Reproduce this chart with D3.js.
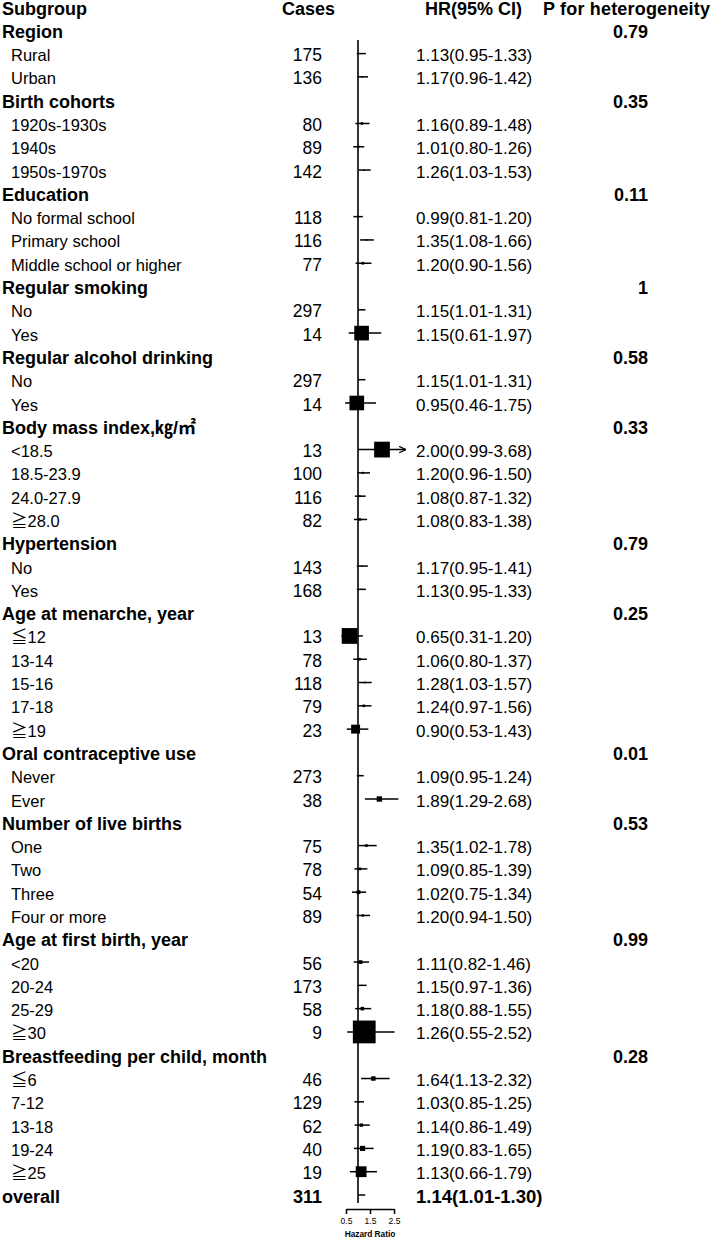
<!DOCTYPE html>
<html><head><meta charset="utf-8">
<script src="https://cdn.jsdelivr.net/npm/d3@7"></script>
<style>
body{margin:0;background:#fff;}
text{font-family:"Liberation Sans",Arial,"Noto Sans CJK SC",sans-serif;fill:#000;}
</style></head>
<body><svg id="c" width="714" height="1240"></svg>
<script>
// ---- data ----
const groups = ["Region","Birth cohorts","Education","Regular smoking","Regular alcohol drinking",
  "Body mass index,㎏/㎡","Hypertension","Age at menarche, year","Oral contraceptive use",
  "Number of live births","Age at first birth, year","Breastfeeding per child, month"];
const pHet = ["0.79","0.35","0.11","1","0.58","0.33","0.79","0.25","0.01","0.53","0.99","0.28"];
const subgroups = [
  ["Rural","Urban"],
  ["1920s-1930s","1940s","1950s-1970s"],
  ["No formal school","Primary school","Middle school or higher"],
  ["No","Yes"],
  ["No","Yes"],
  ["<18.5","18.5-23.9","24.0-27.9","≧28.0"],
  ["No","Yes"],
  ["≦12","13-14","15-16","17-18","≧19"],
  ["Never","Ever"],
  ["One","Two","Three","Four or more"],
  ["<20","20-24","25-29","≧30"],
  ["≦6","7-12","13-18","19-24","≧25"]
];
const cases = [[175,136],[80,89,142],[118,116,77],[297,14],[297,14],[13,100,116,82],[143,168],
  [13,78,118,79,23],[273,38],[75,78,54,89],[56,173,58,9],[46,129,62,40,19]];
const hr = [[1.13,1.17],[1.16,1.01,1.26],[0.99,1.35,1.20],[1.15,1.15],[1.15,0.95],[2.00,1.20,1.08,1.08],
  [1.17,1.13],[0.65,1.06,1.28,1.24,0.90],[1.09,1.89],[1.35,1.09,1.02,1.20],[1.11,1.15,1.18,1.26],
  [1.64,1.03,1.14,1.19,1.13]];
const lower = [[0.95,0.96],[0.89,0.80,1.03],[0.81,1.08,0.90],[1.01,0.61],[1.01,0.46],[0.99,0.96,0.87,0.83],
  [0.95,0.95],[0.31,0.80,1.03,0.97,0.53],[0.95,1.29],[1.02,0.85,0.75,0.94],[0.82,0.97,0.88,0.55],
  [1.13,0.85,0.86,0.83,0.66]];
const upper = [[1.33,1.42],[1.48,1.26,1.53],[1.20,1.66,1.56],[1.31,1.97],[1.31,1.75],[3.68,1.50,1.32,1.38],
  [1.41,1.33],[1.20,1.37,1.57,1.56,1.43],[1.24,2.68],[1.78,1.39,1.34,1.50],[1.46,1.36,1.55,2.52],
  [2.32,1.25,1.49,1.65,1.79]];
const overall = {label:"overall", cases:311, hr:1.14, lo:1.01, hi:1.30};
const headers = ["Subgroup","Cases","HR(95% CI)","P for heterogeneity"];
const ticks = [0.5,1.5,2.5];
const axisTitle = "Hazard Ratio";

// ---- build rows ----
const rows = [];
groups.forEach((g,gi)=>{
  rows.push({type:"group", label:g, p:pHet[gi]});
  subgroups[gi].forEach((s,si)=>{
    rows.push({type:"sub", label:s, cases:cases[gi][si], hr:hr[gi][si], lo:lower[gi][si], hi:upper[gi][si]});
  });
});
rows.push(Object.assign({type:"overall"}, overall));

const svg = d3.select("#c");
const fmt = d3.format(".2f");
const nRows = rows.length + 1;
const yBase = d3.scaleLinear().domain([0, nRows-1]).range([14.5, 1202.5]);
const x = d3.scaleLinear().domain([0.5, 2.5]).range([346, 394]);
const xMax = 3.0;
const boxSize = d3.scaleLinear().domain([0, 1]).range([0, 205]); // size ~ 1/cases

const colLabel = 2, colIndent = 11, colCases = 322, colHR = 416, colP = 648;

// headers
const hdr = svg.append("g").attr("font-weight","bold").attr("font-size",18);
hdr.append("text").attr("x",colLabel).attr("y",yBase(0)).text(headers[0]);
hdr.append("text").attr("x",282).attr("y",yBase(0)).text(headers[1]);
hdr.append("text").attr("x",425).attr("y",yBase(0)).text(headers[2]);
hdr.append("text").attr("x",543).attr("y",yBase(0)).attr("textLength",167).text(headers[3]);

// marker for arrow
svg.append("defs").append("marker").attr("id","arr").attr("viewBox","0 0 10 10")
  .attr("refX",9.5).attr("refY",5).attr("markerWidth",8).attr("markerHeight",8)
  .attr("orient","auto").attr("markerUnits","userSpaceOnUse")
  .append("path").attr("d","M1,1 L9.5,5 L1,9").attr("fill","none").attr("stroke","#000").attr("stroke-width",1.6);

// reference line at 1
svg.append("line").attr("x1",x(1)).attr("x2",x(1)).attr("y1",40).attr("y2",1203)
  .attr("stroke","#000").attr("stroke-width",1.6);

rows.forEach((r,i)=>{
  const yb = yBase(i+1);
  const g = svg.append("g");
  if(r.type==="group"){
    g.append("text").attr("x",colLabel).attr("y",yb).attr("font-size",18).attr("font-weight","bold").text(r.label);
    g.append("text").attr("x",colP).attr("y",yb).attr("font-size",18).attr("font-weight","bold")
      .attr("text-anchor","end").text(r.p);
    return;
  }
  const bold = r.type==="overall";
  g.append("text").attr("x",bold?colLabel:colIndent).attr("y",yb).attr("font-size",bold?18:16.5)
    .attr("font-weight",bold?"bold":"normal").text(r.label);
  g.append("text").attr("x",colCases).attr("y",yb).attr("font-size",bold?18:17.5)
    .attr("font-weight",bold?"bold":"normal").attr("text-anchor","end").text(r.cases);
  g.append("text").attr("x",colHR).attr("y",yb).attr("font-size",bold?18.5:17)
    .attr("font-weight",bold?"bold":"normal").text(`${fmt(r.hr)}(${fmt(r.lo)}-${fmt(r.hi)})`);
  const ym = yb - 7.5;
  const clipped = r.hi > xMax;
  g.append("line").attr("x1",x(r.lo)).attr("x2",x(Math.min(r.hi,xMax))).attr("y1",ym).attr("y2",ym)
    .attr("stroke","#000").attr("stroke-width",1.5)
    .attr("marker-end", clipped ? "url(#arr)" : null);
  const s = boxSize(1/r.cases);
  g.append("rect").attr("x",x(r.hr)-s/2).attr("y",ym-s/2).attr("width",s).attr("height",s).attr("fill","#000");
});

// axis
const axis = d3.axisBottom(x).tickValues(ticks).tickSize(5).tickSizeOuter(0).tickPadding(4)
  .tickFormat(d3.format(".1f"));
const ag = svg.append("g").attr("transform","translate(0,1209)").call(axis);
ag.select(".domain").attr("stroke","#000").attr("stroke-width",1.5);
ag.selectAll(".tick line").attr("stroke","#000").attr("stroke-width",1.5);
ag.selectAll(".tick text").attr("font-size",8.5).attr("font-family","Liberation Sans, Arial, sans-serif")
  .attr("fill","#000");
svg.append("text").attr("x",x(1.5)).attr("y",1237).attr("text-anchor","middle").attr("font-size",8.3)
  .attr("font-weight","bold").text(axisTitle);
</script></body></html>
